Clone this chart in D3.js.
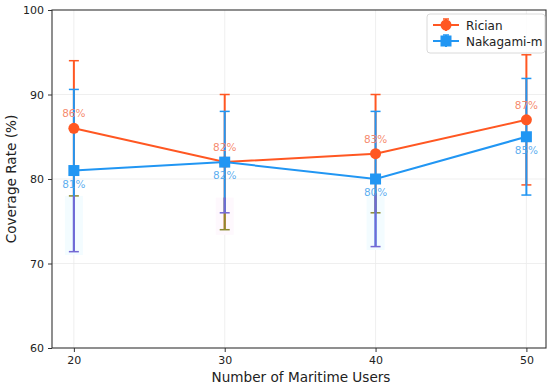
<!DOCTYPE html>
<html>
<head>
<meta charset="utf-8">
<script src="https://cdn.jsdelivr.net/npm/d3@7"></script>
<style>
  body { margin: 0; background: #fff; }
  svg { display: block; font-family: "DejaVu Sans", sans-serif; }
</style>
</head>
<body>
<svg id="chart" width="550" height="386"></svg>
<script>
"use strict";

var users = [20, 30, 40, 50];
var ricianValues = [86, 82, 83, 87];
var ricianErrors = [8, 8, 7, 7.7];
var nakagamiValues = [81, 82, 80, 85];
var nakagamiErrors = [9.6, 6, 8, 6.9];
// faint highlight boxes under some points (top value, bottom value), null = none
var shadeTops = [78, 77.8, 78.3, null];
var shadeBottoms = [71, 73.4, 71.6, null];
var yTicks = [60, 70, 80, 90, 100];

var svg = d3.select("#chart");
var plotLeft = 52, plotRight = 546, plotTop = 10, plotBottom = 348;

var x = d3.scaleLinear().domain([18.55, 51.3]).range([plotLeft, plotRight]);
var y = d3.scaleLinear().domain([60, 100]).range([plotBottom, plotTop]);

var series = [
  { name: "Rician", color: "#ff5722", label: "#f57c5c", values: ricianValues, errors: ricianErrors,
    shadeColor: "#8c8a30", marker: "circle", labelDy: -11 },
  { name: "Nakagami-m", color: "#2196f3", label: "#4aa5ee", values: nakagamiValues, errors: nakagamiErrors,
    shadeColor: "#7468d4", marker: "square", labelDy: 17 }
];

// grid
var grid = svg.append("g");
grid.selectAll("line.gy").data(yTicks.slice(1, -1)).enter().append("line")
  .attr("x1", plotLeft).attr("x2", plotRight)
  .attr("y1", function (d) { return y(d); }).attr("y2", function (d) { return y(d); })
  .attr("stroke", "#ebebeb").attr("stroke-width", 0.8);
grid.selectAll("line.gx").data(users).enter().append("line")
  .attr("y1", plotTop).attr("y2", plotBottom)
  .attr("x1", function (d) { return x(d); }).attr("x2", function (d) { return x(d); })
  .attr("stroke", "#ebebeb").attr("stroke-width", 0.8);

// shaded boxes
var shades = users.map(function (u, i) {
  return shadeTops[i] == null ? null : { u: u, t: shadeTops[i], b: shadeBottoms[i], i: i };
}).filter(function (d) { return d; });

svg.append("g").selectAll("rect").data(shades).enter().append("rect")
  .attr("x", function (d) { return x(d.u) - 9; }).attr("width", 18)
  .attr("y", function (d) { return y(d.t); })
  .attr("height", function (d) { return y(d.b) - y(d.t); })
  .attr("fill", function (d) { return d.i === 1 ? "#fef8fd" : "#f3fcff"; });

// one error bar: stem + caps; the part of the stem inside a shade box is tinted
function drawErrorBar(g, s, i) {
  var cx = x(users[i]);
  var loVal = s.values[i] - s.errors[i], hiVal = s.values[i] + s.errors[i];
  var lo = y(loVal), hi = y(hiVal);
  g.append("line").attr("x1", cx).attr("x2", cx).attr("y1", hi).attr("y2", lo)
    .attr("stroke", s.color).attr("stroke-width", 2);
  var capColor = [s.color, s.color];
  if (shadeTops[i] != null) {
    var t = Math.min(shadeTops[i], hiVal), b = Math.max(shadeBottoms[i], loVal);
    if (t > b) {
      g.append("line").attr("x1", cx).attr("x2", cx).attr("y1", y(t)).attr("y2", y(b))
        .attr("stroke", s.shadeColor).attr("stroke-width", 2);
    }
    if (loVal <= shadeTops[i] && loVal >= shadeBottoms[i]) capColor[1] = s.shadeColor;
  }
  [hi, lo].forEach(function (yy, k) {
    g.append("line").attr("x1", cx - 5).attr("x2", cx + 5).attr("y1", yy).attr("y2", yy)
      .attr("stroke", capColor[k]).attr("stroke-width", 1.5);
  });
}

var line = d3.line()
  .x(function (d, i) { return x(users[i]); })
  .y(function (d) { return y(d); });

series.forEach(function (s) {
  var g = svg.append("g");
  users.forEach(function (u, i) { drawErrorBar(g, s, i); });
});

series.forEach(function (s) {
  var g = svg.append("g");
  g.append("path").datum(s.values).attr("d", line)
    .attr("fill", "none").attr("stroke", s.color).attr("stroke-width", 2);
  if (s.marker === "circle") {
    g.selectAll("circle").data(s.values).enter().append("circle")
      .attr("cx", function (d, i) { return x(users[i]); })
      .attr("cy", function (d) { return y(d); })
      .attr("r", 5.5).attr("fill", s.color);
  } else {
    g.selectAll("rect").data(s.values).enter().append("rect")
      .attr("x", function (d, i) { return x(users[i]) - 5.5; })
      .attr("y", function (d) { return y(d) - 5.5; })
      .attr("width", 11).attr("height", 11).attr("fill", s.color);
  }
  g.selectAll("text").data(s.values).enter().append("text")
    .attr("x", function (d, i) { return x(users[i]); })
    .attr("y", function (d) { return y(d) + s.labelDy; })
    .attr("text-anchor", "middle").attr("font-size", 10.5)
    .attr("fill", s.label).attr("fill-opacity", 0.9)
    .text(function (d) { return d + "%"; });
});

// axes
var xAxis = d3.axisBottom(x).tickValues(users).tickSize(4).tickPadding(4);
var yAxis = d3.axisLeft(y).tickValues(yTicks).tickSize(4).tickPadding(4);

var gx = svg.append("g").attr("transform", "translate(0," + plotBottom + ")").call(xAxis);
var gy = svg.append("g").attr("transform", "translate(" + plotLeft + ",0)").call(yAxis);
[gx, gy].forEach(function (g) {
  g.select(".domain").remove();
  g.selectAll(".tick line").attr("stroke", "#333").attr("stroke-width", 1);
  g.selectAll(".tick text").attr("fill", "#222").attr("font-size", 11)
    .attr("font-family", "DejaVu Sans, sans-serif");
});

svg.append("rect").attr("x", plotLeft).attr("y", plotTop)
  .attr("width", plotRight - plotLeft).attr("height", plotBottom - plotTop)
  .attr("fill", "none").attr("stroke", "#333").attr("stroke-width", 1.1);

svg.append("text").attr("x", (plotLeft + plotRight) / 2 + 2).attr("y", 382)
  .attr("text-anchor", "middle").attr("font-size", 13.6).attr("fill", "#222")
  .text("Number of Maritime Users");
svg.append("text").attr("transform", "translate(16," + (plotTop + plotBottom) / 2 + ") rotate(-90)")
  .attr("text-anchor", "middle").attr("font-size", 13.6).attr("fill", "#222")
  .text("Coverage Rate (%)");

// legend
var legend = svg.append("g").attr("transform", "translate(427,14)");
legend.append("rect").attr("width", 118).attr("height", 39).attr("rx", 3)
  .attr("fill", "#fff").attr("fill-opacity", 0.85).attr("stroke", "#d0d0d0").attr("stroke-width", 0.8);
series.forEach(function (s, i) {
  var ly = 11 + i * 16;
  var g = legend.append("g").attr("transform", "translate(0," + ly + ")");
  g.append("line").attr("x1", 6).attr("x2", 32).attr("y1", 0).attr("y2", 0)
    .attr("stroke", s.color).attr("stroke-width", 2);
  g.append("line").attr("x1", 19).attr("x2", 19).attr("y1", -6).attr("y2", 6)
    .attr("stroke", s.color).attr("stroke-width", 2);
  g.append("line").attr("x1", 16).attr("x2", 22).attr("y1", -6).attr("y2", -6)
    .attr("stroke", s.color).attr("stroke-width", 1.5);
  if (s.marker === "circle") {
    g.append("circle").attr("cx", 19).attr("cy", 0).attr("r", 5.5).attr("fill", s.color);
  } else {
    g.append("rect").attr("x", 13.5).attr("y", -5.5).attr("width", 11).attr("height", 11).attr("fill", s.color);
  }
  g.append("text").attr("x", 39).attr("y", 4.5).attr("font-size", 12).attr("fill", "#222").text(s.name);
});
</script>
</body>
</html>
